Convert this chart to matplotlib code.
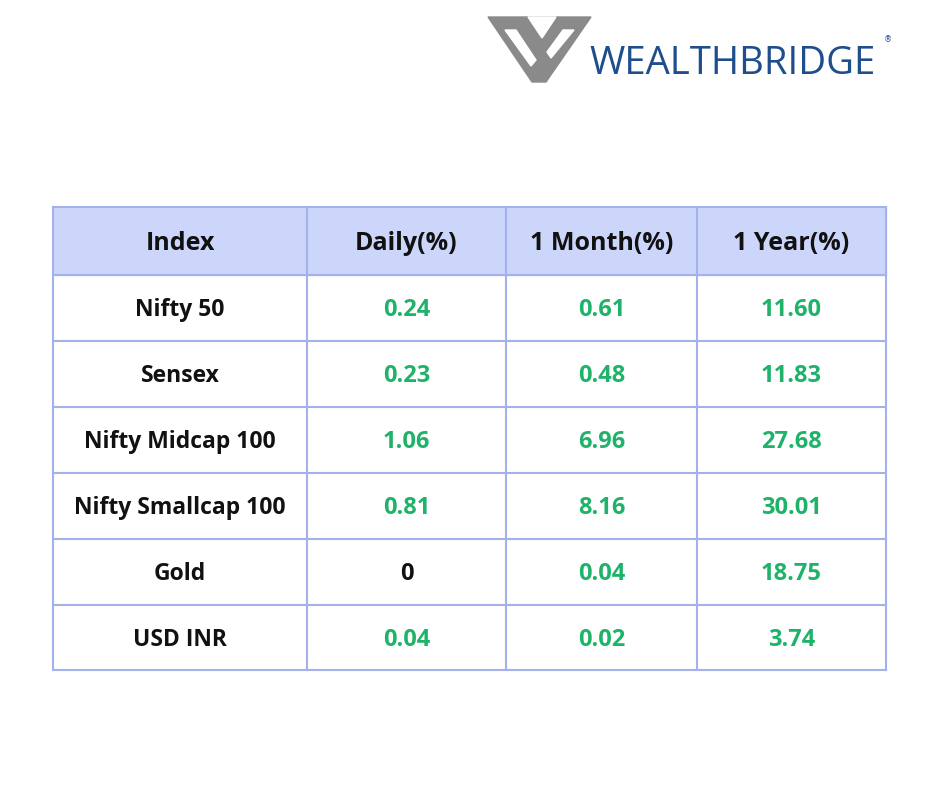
import matplotlib
matplotlib.use("Agg")
import matplotlib.pyplot as plt
from matplotlib.patches import Rectangle, Polygon

headers = ["Index", "Daily(%)", "1 Month(%)", "1 Year(%)"]
indices = ["Nifty 50", "Sensex", "Nifty Midcap 100", "Nifty Smallcap 100", "Gold", "USD INR"]
daily = ["0.24", "0.23", "1.06", "0.81", "0", "0.04"]
month = ["0.61", "0.48", "6.96", "8.16", "0.04", "0.02"]
year = ["11.60", "11.83", "27.68", "30.01", "18.75", "3.74"]

fig = plt.figure(figsize=(9.4, 7.88), dpi=100)
ax = fig.add_axes([0, 0, 1, 1])
ax.set_xlim(0, 940); ax.set_ylim(788, 0); ax.axis("off")

xe = [53, 307, 506, 697, 886]
ye = [207, 275, 341, 407, 473, 539, 605, 670]
border = "#a3b2ea"; head = "#ccd6fb"; green = "#1fb36a"
ax.add_patch(Rectangle((xe[0], ye[0]), xe[-1]-xe[0], ye[1]-ye[0], color=head, zorder=1))
for x in xe:
    ax.plot([x, x], [ye[0], ye[-1]], color=border, lw=1.5, zorder=2)
for y in ye:
    ax.plot([xe[0], xe[-1]], [y, y], color=border, lw=1.5, zorder=2)

fam = ["Open Sans", "DejaVu Sans"]
for j, h in enumerate(headers):
    ax.text((xe[j]+xe[j+1])/2, (ye[0]+ye[1])/2 + 2, h, ha="center", va="center",
            fontsize=18, fontweight="bold", family=fam, color="#111111")
cols = [daily, month, year]
for i, name in enumerate(indices):
    yc = (ye[i+1]+ye[i+2])/2 + 2
    ax.text((xe[0]+xe[1])/2, yc, name, ha="center", va="center",
            fontsize=16.5, fontweight="bold", family=fam, color="#111111")
    for j, col in enumerate(cols):
        v = col[i]
        c = "#111111" if float(v) == 0 else green
        ax.text((xe[j+1]+xe[j+2])/2, yc, v, ha="center", va="center",
                fontsize=17, fontweight="bold", family=fam, color=c)

# logo
grey = "#8a8a8a"
ax.add_patch(Polygon([(488, 17), (591, 17), (546, 82), (532, 82)], color=grey))
ax.add_patch(Polygon([(505, 30), (516, 30), (536, 60), (531, 66)], color="white"))
ax.add_patch(Polygon([(563, 30), (574, 30), (551, 58), (547, 52)], color="white"))
ax.add_patch(Polygon([(528, 17), (556, 17), (542, 38)], color="white"))
ax.text(589, 64, "WEALTHBRIDGE", ha="left", va="center", fontsize=27.5,
        family="Open Sans", color="#1f4e8c")
ax.text(888, 40, "®", ha="center", va="center", fontsize=6, color="#1f4e8c")

fig.savefig("out.png", dpi=100, facecolor="white")
